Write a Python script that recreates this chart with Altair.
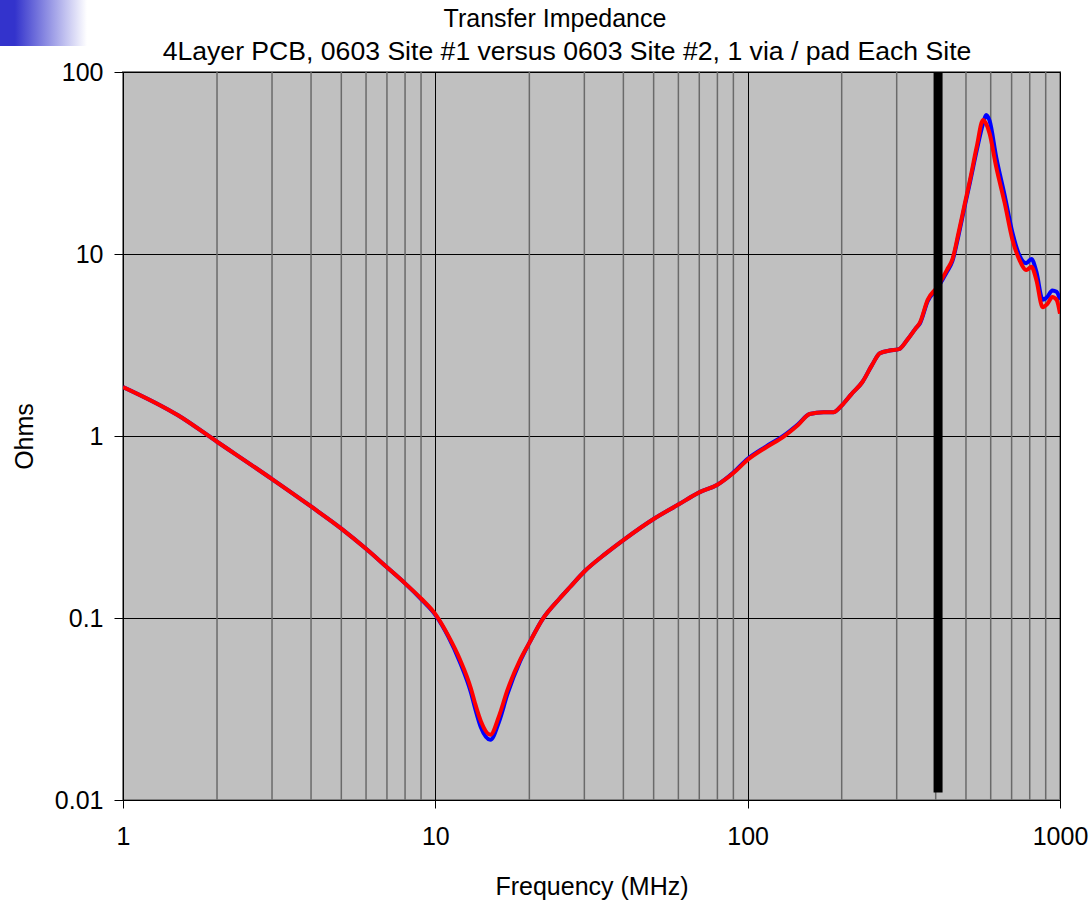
import altair as alt
import pandas as pd

# ---- data ----
freq_mhz = [1, 1.5, 2, 3, 4, 5, 6, 7, 8, 9, 10, 11, 12, 13, 13.4, 14, 15, 16, 17, 18.7,
            20, 22, 25, 27, 30, 35, 40, 50, 60, 70, 80, 90, 100, 115, 130, 145, 158, 175,
            188, 200, 215, 233, 250, 265, 285, 305, 324, 345, 356, 377, 405, 435, 452, 473,
            496, 515, 541, 567, 580, 595, 625, 665, 705, 742, 780, 810, 840, 880, 910, 945,
            975, 1000]

site2_ohms = [1.86, 1.3, 0.93, 0.58, 0.41, 0.31, 0.24, 0.19, 0.155, 0.128, 0.105, 0.08, 0.059,
              0.041, 0.034, 0.027, 0.0228, 0.029, 0.040, 0.059,
              0.073, 0.098, 0.128, 0.148, 0.18, 0.225, 0.268, 0.35, 0.42, 0.49, 0.54, 0.626,
              0.74, 0.87, 0.99, 1.15, 1.32, 1.35, 1.35, 1.47, 1.7, 1.98, 2.45, 2.85, 2.95,
              3.0, 3.37, 3.9, 4.2, 5.6, 6.6, 8.2, 9.3, 13, 19, 25.5, 38.7, 54.5, 52, 46, 30,
              19.1, 11.9, 9.26, 8.17, 8.5, 7.2, 5.1, 5.3, 5.8, 5.6, 4.7]

site1_ohms = [1.86, 1.3, 0.93, 0.58, 0.41, 0.31, 0.24, 0.19, 0.155, 0.127, 0.104, 0.079, 0.057,
              0.039, 0.032, 0.025, 0.0214, 0.027, 0.038, 0.058,
              0.073, 0.098, 0.128, 0.148, 0.18, 0.225, 0.268, 0.35, 0.42, 0.49, 0.54, 0.63,
              0.75, 0.88, 1.0, 1.16, 1.32, 1.35, 1.35, 1.47, 1.7, 1.98, 2.45, 2.85, 2.95,
              3.0, 3.37, 3.9, 4.15, 5.5, 6.5, 8.0, 9.1, 12.6, 18.5, 24.8, 37, 52, 58, 54, 34,
              21, 13, 9.8, 8.9, 9.4, 8.0, 5.6, 5.8, 6.3, 6.2, 5.6]

minor_freqs = [2, 3, 4, 5, 6, 7, 8, 9, 20, 30, 40, 50, 60, 70, 80, 90,
               200, 300, 400, 500, 600, 700, 800, 900]
x_ticks = [1, 10, 100, 1000]
y_ticks = [0.01, 0.1, 1, 10, 100]

marker_freq = [407]
marker_low = [0.011]
marker_high = [100]

title_lines = ["Transfer Impedance",
               "4Layer PCB, 0603 Site #1 versus 0603 Site #2, 1 via / pad Each Site"]

FONT = "Liberation Sans"

df1 = pd.DataFrame({"f": freq_mhz, "z": site1_ohms})
df2 = pd.DataFrame({"f": freq_mhz, "z": site2_ohms})
dminor = pd.DataFrame({"f": minor_freqs})
dmark = pd.DataFrame({"f": marker_freq, "lo": marker_low, "hi": marker_high})

xscale = alt.Scale(type="log", domain=[1, 1000], nice=False)
yscale = alt.Scale(type="log", domain=[0.01, 100], nice=False)

xaxis = alt.Axis(values=x_ticks, format="~g", labelFont=FONT, labelFontSize=25,
                 labelColor="black", labelPadding=16, labelFlush=False, labelOverlap=False,
                 tickColor="black", tickSize=8, domainColor="black", domainWidth=1,
                 grid=True, gridColor="black", gridWidth=1, gridOpacity=1,
                 title="Frequency (MHz)", titleFont=FONT, titleFontSize=25,
                 titleFontWeight="normal", titleColor="black", titleY=86,
                 titleBaseline="middle")
yaxis = alt.Axis(values=y_ticks, format="~g", labelFont=FONT, labelFontSize=25,
                 labelColor="black", labelPadding=11, labelFlush=False, labelOverlap=False,
                 tickColor="black", tickSize=9, domainColor="black", domainWidth=1,
                 grid=True, gridColor="black", gridWidth=1, gridOpacity=1,
                 title="Ohms", titleFont=FONT, titleFontSize=25, titleFontWeight="normal",
                 titleColor="black", titleAngle=270, titleAlign="center",
                 titleBaseline="middle", titleX=-99, titleY=364)

minor = alt.Chart(dminor).mark_rule(color="#6a6a6a", strokeWidth=1.5).encode(
    x=alt.X("f:Q", scale=xscale, axis=xaxis)
)

blue = alt.Chart(df1).mark_line(color="#0000ff", strokeWidth=4, clip=True,
                                interpolate="monotone").encode(
    x=alt.X("f:Q", scale=xscale),
    y=alt.Y("z:Q", scale=yscale, axis=yaxis),
)
red = alt.Chart(df2).mark_line(color="#ff0000", strokeWidth=4, clip=True,
                               interpolate="monotone").encode(
    x=alt.X("f:Q", scale=xscale),
    y=alt.Y("z:Q", scale=yscale),
)
marker = alt.Chart(dmark).mark_rule(color="black", strokeWidth=9).encode(
    x=alt.X("f:Q", scale=xscale),
    y=alt.Y("lo:Q", scale=yscale),
    y2="hi:Q",
)

badge = alt.Chart(pd.DataFrame({"k": [0]})).mark_rect(
    clip=False,
    color=alt.Gradient(
        gradient="linear", x1=0, x2=1, y1=0, y2=0,
        stops=[alt.GradientStop(offset=0, color="#3333cc"),
               alt.GradientStop(offset=0.17, color="#3333cc"),
               alt.GradientStop(offset=1, color="#ffffff")],
    ),
).encode(x=alt.value(-123), x2=alt.value(-36), y=alt.value(-72), y2=alt.value(-26))

title1 = alt.Chart(pd.DataFrame({"t": [title_lines[0]]})).mark_text(
    font=FONT, fontSize=25, color="black", align="center", baseline="alphabetic"
).encode(text="t:N", x=alt.value(432), y=alt.value(-45))
title2 = alt.Chart(pd.DataFrame({"t": [title_lines[1]]})).mark_text(
    font=FONT, fontSize=26.6, color="black", align="center", baseline="alphabetic"
).encode(text="t:N", x=alt.value(444), y=alt.value(-12))

chart = alt.layer(minor, blue, red, marker, badge, title1, title2).properties(
    width=937,
    height=728,
    autosize=alt.AutoSizeParams(type="none"),
    padding={"left": 123, "top": 72, "right": 30, "bottom": 101},
    background="white",
).configure_view(
    fill="#c0c0c0", stroke="#808080", strokeWidth=2
)

chart.save("out.html", embed_options={"renderer": "svg", "actions": False})
